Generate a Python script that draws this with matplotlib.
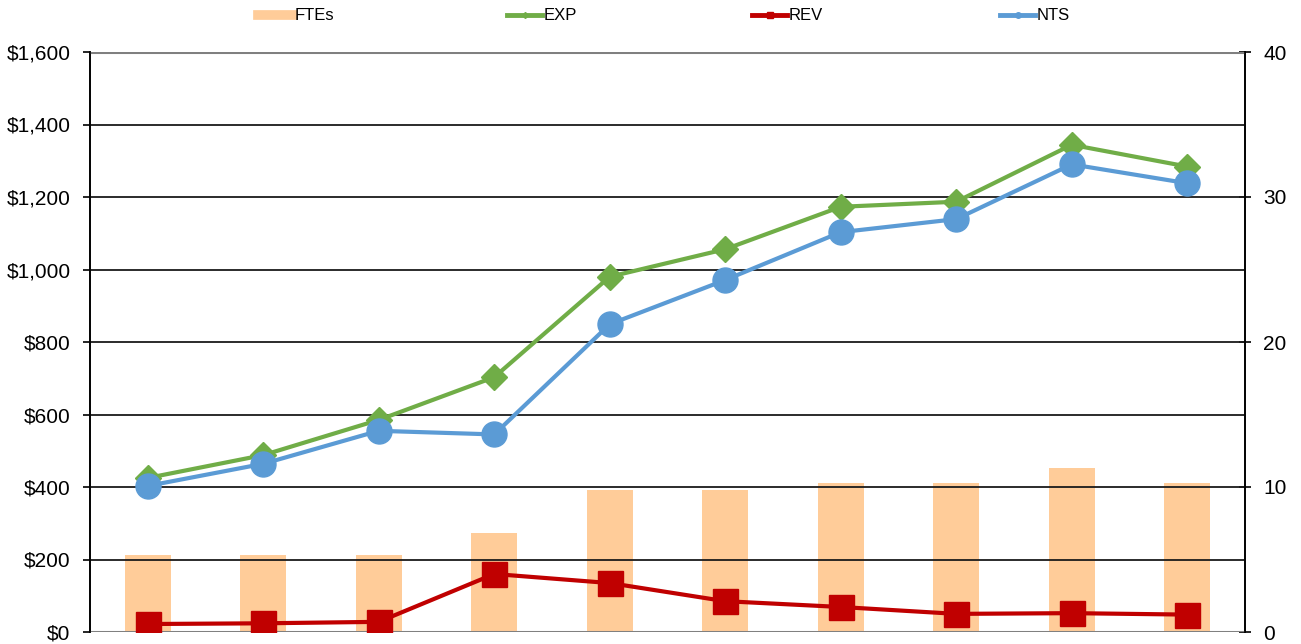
import numpy as np
import matplotlib
matplotlib.use("Agg")
import matplotlib.pyplot as plt
from matplotlib.lines import Line2D
from matplotlib.ticker import FuncFormatter

plt.rcParams['font.family'] = ['Liberation Sans', 'DejaVu Sans']

# values (10 periods, x labels cropped away)
ftes = [5.3, 5.3, 5.3, 6.8, 9.8, 9.8, 10.3, 10.3, 11.3, 10.3]
exp_vals = [425, 488, 585, 703, 980, 1056, 1173, 1187, 1344, 1284]
rev_vals = [22, 24, 28, 160, 135, 85, 69, 50, 52, 48]
nts_vals = [403, 464, 555, 545, 849, 971, 1103, 1139, 1290, 1238]

c_fte = '#FFCC99'
c_exp = '#70AD47'
c_rev = '#C00000'
c_nts = '#5B9BD5'

x = np.arange(len(ftes))

fig = plt.figure(figsize=(13.01, 6.44), dpi=100)
ax = fig.add_axes([90/1301, 1-632/644, (1245-90)/1301, (632-52)/644])
ax2 = ax.twinx()
ax.set_zorder(ax2.get_zorder() + 1)
ax.patch.set_visible(False)

# bars on the right axis, behind everything
ax2.bar(x, ftes, width=0.4, color=c_fte, zorder=1)
ax2.set_ylim(0, 40)
ax2.set_yticks([0, 10, 20, 30, 40])

# gridlines on the left axis
for v in range(200, 1600, 200):
    ax.axhline(v, color='#1a1a1a', lw=1.3, zorder=1)
ax.axhline(0, color='#808080', lw=2.2, zorder=1)
ax.axhline(1600, color='#808080', lw=2.2, zorder=1)

ax.plot(x, exp_vals, color=c_exp, lw=3, marker='D', ms=13, zorder=3)
ax.plot(x, rev_vals, color=c_rev, lw=3, marker='s', ms=18, zorder=4)
ax.plot(x, nts_vals, color=c_nts, lw=3, marker='o', ms=18, zorder=5)

ax.set_xlim(-0.5, len(ftes) - 0.5)
ax.set_ylim(0, 1600)
ax.set_yticks(range(0, 1601, 200))
ax.yaxis.set_major_formatter(FuncFormatter(lambda v, p: '${:,.0f}'.format(v)))
ax.set_xticks([])

for a in (ax, ax2):
    a.spines['top'].set_visible(False)
    a.spines['bottom'].set_visible(False)
    a.spines['left'].set_color('black')
    a.spines['right'].set_color('black')
    a.spines['left'].set_linewidth(1.2)
    a.spines['right'].set_linewidth(1.2)
ax.tick_params(axis='y', direction='out', length=5, width=1.2, pad=9, labelsize=15)
ax2.tick_params(axis='y', direction='inout', length=8, width=1.2, pad=9, labelsize=15)

handles = [
    Line2D([], [], color=c_fte, lw=7),
    Line2D([], [], color=c_exp, lw=3.5, marker='D', ms=3),
    Line2D([], [], color=c_rev, lw=3.5, marker='s', ms=4),
    Line2D([], [], color=c_nts, lw=3.5, marker='o', ms=4),
]
labels = ['FTEs', 'EXP', 'REV', 'NTS']
xs = [258, 507, 752, 1000]
for h, lab, xp in zip(handles, labels, xs):
    fig.legend([h], [lab], loc='center left', bbox_to_anchor=(xp/1301, 1-16/644),
               frameon=False, fontsize=12, handlelength=2.1, handletextpad=0.1,
               borderpad=0, borderaxespad=0)

fig.savefig('out.png', dpi=100)
